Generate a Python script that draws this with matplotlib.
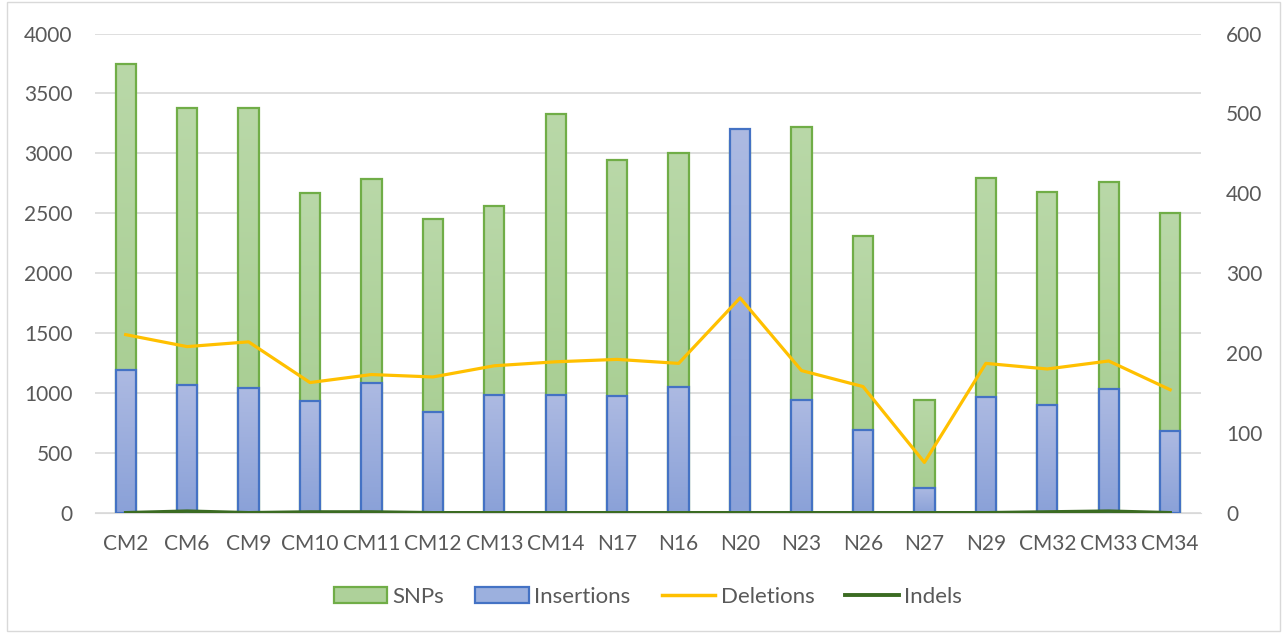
import matplotlib
matplotlib.use("Agg")
import matplotlib.pyplot as plt
import numpy as np
from matplotlib.colors import LinearSegmentedColormap
from matplotlib.patches import Rectangle

samples = ["CM2", "CM6", "CM9", "CM10", "CM11", "CM12", "CM13", "CM14", "N17",
           "N16", "N20", "N23", "N26", "N27", "N29", "CM32", "CM33", "CM34"]
snps = [3745, 3382, 3382, 2672, 2789, 2455, 2564, 3332, 2948,
        3006, 3100, 3223, 2313, 944, 2797, 2681, 2764, 2505]
insertions = [1194, 1069, 1044, 935, 1086, 843, 985, 985, 977,
              1052, 3207, 944, 693, 209, 969, 902, 1035, 685]
deletions = [223, 208, 214, 163, 173, 170, 184, 189, 192,
             187, 269, 178, 158, 63, 187, 180, 190, 154]
indels = [0, 2, 0, 1, 1, 0, 0, 0, 0, 0, 0, 0, 0, 0, 0, 1, 2, 0]

plt.rcParams['font.family'] = ['Lato', 'DejaVu Sans']
txt = '#595959'
fs = 15

fig = plt.figure(figsize=(12.83, 6.33), dpi=100)
# thin frame round the whole chart area
fig.patches.append(Rectangle((7 / 1283, 2 / 633), 1273 / 1283, 629 / 633,
                             transform=fig.transFigure, fill=False,
                             edgecolor='#d9d9d9', linewidth=1))
ax = fig.add_axes([0.074, 0.19, 0.862, 0.757])
ax2 = ax.twinx()

x = np.arange(len(samples))
w = 0.33


def grad_bars(axis, vals, top, bottom, edge, z):
    cmap = LinearSegmentedColormap.from_list('g', [bottom, top])
    grad = np.linspace(0, 1, 256).reshape(-1, 1)
    for xi, v in zip(x, vals):
        rect = Rectangle((xi - w / 2, 0), w, v, facecolor='none', edgecolor=edge,
                         linewidth=1.6, zorder=z + 0.5)
        axis.add_patch(rect)
        im = axis.imshow(grad, cmap=cmap, origin='lower', aspect='auto',
                         extent=(xi - w / 2, xi + w / 2, 0, v), zorder=z)
        im.set_clip_path(rect)


grad_bars(ax, snps, '#b9d8a8', '#a3cb8c', '#70ad47', 2)
grad_bars(ax, insertions, '#adbae2', '#8aa1d8', '#4472c4', 3)

ax.set_xlim(-0.5, len(samples) - 0.5)
ax.set_ylim(0, 4000)
ax.set_yticks(np.arange(0, 4001, 500))
ax.yaxis.grid(True, color='#d9d9d9', linewidth=1.2)
ax.set_axisbelow(True)
ax.set_xticks(x)
ax.set_xticklabels(samples)

ax2.plot(x, deletions, color='#ffc000', linewidth=2.3, zorder=5)
ax2.plot(x, indels, color='#3b6b22', linewidth=2.5, zorder=5)
ax2.set_ylim(0, 600)
ax2.set_yticks(np.arange(0, 601, 100))

for a in (ax, ax2):
    for s in a.spines.values():
        s.set_visible(False)
    a.tick_params(length=0, labelsize=fs, colors=txt)
ax.spines['bottom'].set_visible(True)
ax.spines['bottom'].set_color('#d9d9d9')
ax.tick_params(axis='y', pad=16)
ax.tick_params(axis='x', pad=15)
ax2.tick_params(axis='y', pad=18)

handles = [Rectangle((0, 0), 1, 1, facecolor='#aed19a', edgecolor='#70ad47', linewidth=1.6),
           Rectangle((0, 0), 1, 1, facecolor='#9cb0de', edgecolor='#4472c4', linewidth=1.6),
           plt.Line2D([], [], color='#ffc000', linewidth=2.5),
           plt.Line2D([], [], color='#3b6b22', linewidth=2.8)]
fig.legend(handles, ["SNPs", "Insertions", "Deletions", "Indels"], loc='center',
           bbox_to_anchor=(0.505, 0.057), ncol=4, frameon=False, fontsize=16,
           labelcolor=txt, handlelength=2.4, handleheight=0.7, handletextpad=0.25,
           columnspacing=1.4)

fig.savefig('out.png', dpi=100)
